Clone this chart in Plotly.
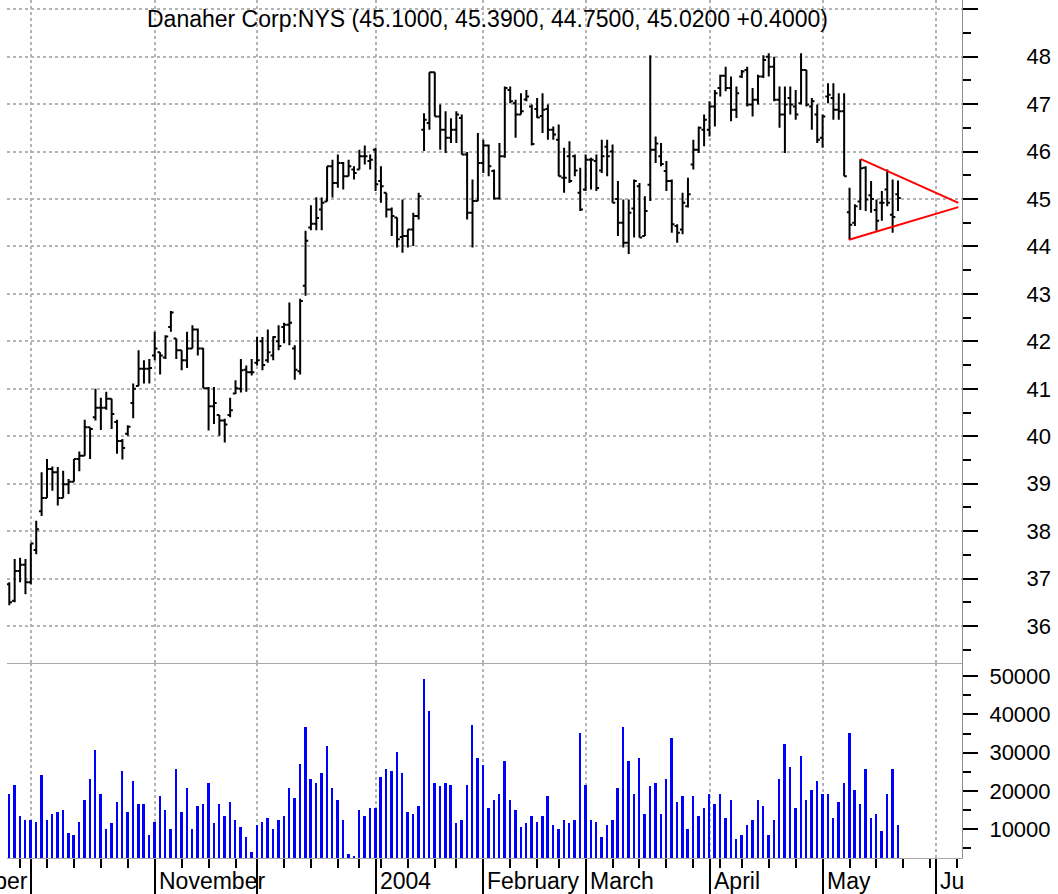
import pandas as pd
import plotly.graph_objects as go

# ---------------- data ----------------
TICKER = "Danaher Corp:NYS"
FIRST_DAY = "2003-09-25"
LAST_DAY = "2004-05-21"
HOLIDAYS = ["2003-11-27", "2003-12-25", "2004-01-01", "2004-01-19", "2004-02-16", "2004-04-09"]
FUTURE_END = "2004-06-11"

opens = [36.88, 36.53, 37.16, 37.29, 36.92, 37.60, 38.42, 38.70, 39.31, 39.24,
         38.70, 38.99, 39.04, 39.52, 39.59, 40.19, 40.40, 40.60, 40.60, 40.79,
         40.30, 39.90, 40.05, 40.70, 41.06, 41.42, 41.42, 41.70, 41.77, 41.66,
         42.30, 42.06, 41.81, 41.60, 41.85, 42.25, 41.85, 41.01, 40.63, 40.45,
         40.33, 40.45, 40.90, 41.00, 41.40, 41.35, 41.55, 42.00, 41.60, 41.70,
         42.00, 42.30, 42.35, 41.85, 41.37, 43.17, 44.40, 44.48, 44.78, 44.95,
         45.69, 45.34, 45.76, 45.48, 45.62, 45.62, 45.90, 45.80, 46.04, 45.38,
         45.13, 44.78, 44.61, 44.20, 44.22, 44.36, 44.64, 46.46, 46.60, 47.67,
         46.74, 46.46, 46.29, 46.46, 46.71, 45.94, 44.71, 44.96, 45.76, 46.13,
         45.59, 45.01, 45.90, 47.30, 47.02, 46.78, 47.10, 46.95, 46.90, 46.75,
         46.90, 46.46, 46.25, 45.45, 45.90, 45.90, 45.13, 45.20, 45.83, 45.80,
         45.60, 46.10, 46.00, 45.00, 44.50, 44.08, 44.80, 45.27, 44.22, 45.30,
         46.04, 45.90, 45.59, 45.38, 44.43, 44.36, 44.85, 45.73, 46.04, 46.46,
         46.46, 46.95, 47.34, 47.60, 47.34, 46.88, 47.58, 47.72, 46.99, 47.09,
         47.58, 48.00, 47.79, 47.09, 46.78, 47.13, 46.95, 47.02, 47.72, 46.95,
         46.78, 46.29, 47.16, 47.13, 46.88, 46.85, 44.72, 44.50, 44.95, 45.66,
         45.08, 44.77, 44.92, 45.20, 44.67, 45.10]
highs = [36.92, 37.41, 37.44, 37.41, 37.74, 38.22, 39.24, 39.52, 39.36, 39.35,
         39.27, 39.10, 39.52, 39.68, 40.35, 40.19, 41.00, 40.81, 40.94, 40.79,
         40.35, 39.94, 40.23, 41.11, 41.81, 41.60, 41.63, 42.20, 41.77, 42.13,
         42.64, 42.06, 41.81, 42.20, 42.34, 42.27, 41.86, 41.04, 41.04, 40.45,
         40.37, 40.81, 41.18, 41.63, 41.49, 41.63, 42.09, 42.09, 42.25, 42.11,
         42.34, 42.39, 42.82, 41.92, 42.90, 44.33, 44.87, 45.04, 45.03, 45.69,
         45.83, 45.94, 45.78, 45.83, 45.69, 46.04, 46.13, 45.94, 46.08, 45.69,
         45.13, 44.82, 44.61, 44.99, 44.36, 44.71, 45.13, 46.81, 47.67, 47.67,
         46.99, 46.85, 46.70, 46.85, 46.78, 45.99, 45.41, 46.39, 46.25, 46.15,
         45.62, 46.18, 47.37, 47.37, 47.09, 47.23, 47.30, 46.99, 47.13, 47.23,
         46.99, 46.53, 46.57, 46.08, 46.22, 45.94, 45.66, 45.94, 45.87, 45.94,
         46.25, 46.25, 46.15, 45.38, 44.99, 44.99, 45.41, 45.34, 45.06, 48.03,
         46.32, 46.18, 45.80, 45.41, 44.47, 45.13, 45.45, 46.25, 46.53, 46.78,
         47.06, 47.30, 47.62, 47.79, 47.58, 47.37, 47.72, 47.79, 47.34, 47.62,
         48.03, 48.07, 48.00, 47.37, 47.37, 47.37, 47.30, 48.07, 47.72, 47.13,
         46.99, 46.78, 47.44, 47.44, 47.23, 47.23, 45.24, 44.89, 45.84, 45.69,
         45.38, 44.99, 45.17, 45.62, 45.41, 45.39]
lows = [36.44, 36.50, 36.92, 36.67, 36.88, 37.51, 38.32, 38.70, 38.85, 38.54,
        38.70, 38.78, 39.04, 39.26, 39.59, 39.52, 40.33, 40.13, 40.56, 40.15,
        39.63, 39.51, 40.01, 40.38, 41.06, 41.11, 41.11, 41.60, 41.30, 41.63,
        42.20, 41.63, 41.39, 41.44, 41.85, 41.70, 41.01, 40.12, 40.26, 40.01,
        39.87, 40.40, 40.89, 40.92, 40.94, 41.28, 41.49, 41.39, 41.55, 41.60,
        41.81, 41.96, 41.92, 41.19, 41.30, 42.96, 44.34, 44.34, 44.34, 44.95,
        45.03, 45.24, 45.20, 45.48, 45.41, 45.62, 45.73, 45.62, 45.17, 44.92,
        44.61, 44.22, 43.98, 43.87, 43.98, 44.01, 44.57, 46.01, 46.46, 46.74,
        46.04, 45.97, 46.18, 46.18, 45.94, 44.57, 43.98, 44.96, 45.55, 45.48,
        44.99, 44.99, 45.87, 47.02, 46.29, 46.78, 47.06, 46.13, 46.71, 46.39,
        46.25, 46.25, 45.48, 45.13, 45.34, 45.48, 44.75, 45.17, 45.20, 45.17,
        45.55, 45.48, 44.92, 44.22, 43.98, 43.84, 44.19, 44.19, 44.22, 44.96,
        45.76, 45.69, 45.17, 44.29, 44.08, 44.26, 44.82, 45.62, 45.97, 46.11,
        46.32, 46.53, 47.16, 47.27, 46.64, 46.71, 47.55, 46.95, 46.74, 46.99,
        47.55, 47.58, 47.06, 46.50, 45.97, 46.78, 46.67, 46.99, 46.95, 46.46,
        46.18, 46.08, 47.02, 46.67, 46.67, 45.48, 44.14, 44.43, 44.77, 44.75,
        44.71, 44.33, 44.54, 44.85, 44.29, 44.75]
closes = [36.50, 37.16, 37.29, 36.92, 37.74, 38.04, 38.70, 39.31, 39.24, 38.70,
          38.99, 39.04, 39.52, 39.59, 40.19, 40.15, 40.60, 40.60, 40.79, 40.47,
          39.90, 39.75, 40.20, 41.00, 41.42, 41.42, 41.44, 41.85, 41.70, 42.10,
          42.61, 41.81, 41.60, 41.85, 42.25, 41.85, 41.01, 40.63, 40.70, 40.33,
          40.25, 40.55, 41.01, 41.39, 41.35, 41.35, 41.60, 41.50, 41.77, 42.09,
          41.90, 42.35, 42.39, 41.40, 42.85, 44.12, 44.48, 44.60, 44.92, 45.69,
          45.34, 45.76, 45.48, 45.69, 45.55, 45.90, 45.90, 45.83, 45.31, 45.27,
          44.78, 44.64, 44.15, 44.22, 44.36, 44.64, 45.06, 46.67, 47.67, 46.74,
          46.46, 46.29, 46.46, 46.78, 45.94, 44.71, 44.96, 45.76, 46.13, 45.69,
          45.01, 45.90, 47.34, 47.06, 46.78, 46.85, 47.16, 46.16, 46.72, 46.88,
          46.46, 46.36, 45.48, 45.45, 45.38, 45.60, 44.78, 45.83, 45.83, 45.23,
          45.90, 45.90, 44.92, 44.50, 44.08, 44.71, 45.38, 44.19, 44.75, 46.04,
          46.17, 45.74, 45.38, 44.47, 44.29, 44.92, 45.10, 46.04, 46.50, 46.67,
          46.95, 47.23, 47.60, 47.34, 46.88, 47.23, 47.69, 46.99, 47.09, 47.58,
          47.93, 47.79, 47.09, 46.78, 46.99, 46.99, 46.78, 47.72, 46.99, 47.06,
          46.25, 46.74, 47.20, 46.88, 46.85, 45.48, 44.46, 44.85, 45.65, 44.99,
          45.00, 44.54, 44.92, 44.92, 44.62, 45.02]
volumes = [19100, 21600, 13500, 12400, 12400, 11900, 24200, 12400, 14000, 14500,
           15000, 9000, 8400, 11900, 17500, 23100, 30700, 19100, 9900, 11500,
           17000, 25100, 14400, 22600, 16400, 16400, 8400, 11900, 18600, 15000,
           9900, 25700, 14400, 20600, 9900, 16000, 16400, 22100, 11500, 16400,
           13500, 17000, 12400, 10400, 7900, 3900, 11000, 11900, 13000, 9900,
           12400, 13500, 20600, 18100, 27100, 36600, 23100, 22100, 24600, 31700,
           20600, 17500, 12400, 3400, 3000, 15000, 13500, 15500, 15500, 23700,
           25700, 25100, 30200, 24600, 14400, 14000, 16000, 49100, 40700, 22100,
           21100, 22100, 21600, 11500, 12400, 21600, 37100, 28600, 26600, 15500,
           17500, 19100, 27700, 17500, 15000, 10400, 11500, 13500, 11900, 13500,
           18600, 11000, 9900, 12400, 11500, 12400, 35100, 21600, 12400, 11900,
           7900, 11000, 12400, 20600, 36600, 27700, 19100, 28600, 14000, 21100,
           22100, 14000, 23100, 33700, 17000, 18600, 9900, 18600, 13500, 15500,
           19100, 16400, 19100, 13000, 17500, 7500, 8400, 11000, 12400, 17500,
           16000, 8400, 12400, 23100, 32200, 26100, 15500, 29100, 17500, 20100,
           22600, 19100, 19100, 13000, 17000, 22100, 35100, 20100, 16400, 25700,
           13000, 14000, 9500, 19100, 25700, 11000]

# symmetric-triangle trendlines (bar index, price)
tri_upper_x = [158.1, 176.2]
tri_upper_y = [45.84, 44.92]
tri_lower_x = [155.9, 176.2]
tri_lower_y = [44.14, 44.83]

month_label_text = {(2003, 11): "November", (2004, 1): "2004", (2004, 2): "February",
                    (2004, 3): "March", (2004, 4): "April", (2004, 5): "May", (2004, 6): "Ju"}
left_clipped_label = "September"

price_ticks = list(range(36, 50))
price_minor = [v + 0.5 for v in range(35, 49)]
vol_ticks = [10000, 20000, 30000, 40000, 50000]
vol_minor = [5000, 15000, 25000, 35000, 45000]

# ---------------- calendar slots ----------------
trade_days = list(pd.bdate_range(FIRST_DAY, LAST_DAY, freq="C", holidays=HOLIDAYS))
future_days = list(pd.bdate_range(pd.Timestamp(LAST_DAY) + pd.Timedelta(days=1), FUTURE_END))
all_days = trade_days + future_days
n = len(opens)
xs = list(range(n))

month_idx = [i for i in range(1, len(all_days)) if all_days[i].month != all_days[i - 1].month]
week_idx = [i for i in range(1, len(all_days))
            if all_days[i].isocalendar()[1] != all_days[i - 1].isocalendar()[1] and i not in month_idx]

FONT = "Liberation Sans, Arial, sans-serif"
GRID = "#b4b4b4"
AXIS = "#8c8c8c"

fig = go.Figure()
fig.add_trace(go.Ohlc(x=xs, open=opens, high=highs, low=lows, close=closes,
                      xaxis="x", yaxis="y", tickwidth=0.5,
                      increasing=dict(line=dict(color="black", width=2)),
                      decreasing=dict(line=dict(color="black", width=2)),
                      showlegend=False, hoverinfo="skip"))
fig.add_trace(go.Scatter(x=tri_upper_x, y=tri_upper_y, mode="lines", xaxis="x", yaxis="y",
                         line=dict(color="#ff0000", width=2), showlegend=False, hoverinfo="skip"))
fig.add_trace(go.Scatter(x=tri_lower_x, y=tri_lower_y, mode="lines", xaxis="x", yaxis="y",
                         line=dict(color="#ff0000", width=2), showlegend=False, hoverinfo="skip"))
fig.add_trace(go.Bar(x=xs, y=volumes, xaxis="x2", yaxis="y2", width=0.36,
                     marker=dict(color="#0000ff", line=dict(width=0)),
                     showlegend=False, hoverinfo="skip"))

W, H = 1058, 894
ML, MR, MT, MB = 7, 96, 0, 36
plot_h = H - MT - MB
split = (858 - 663.3) / plot_h
x_range = [-0.427, 176.88]

fig.update_layout(
    width=W, height=H, margin=dict(l=ML, r=MR, t=MT, b=MB),
    paper_bgcolor="white", plot_bgcolor="white",
    font=dict(family=FONT, size=22, color="black"),
    bargap=0,
    xaxis=dict(domain=[0, 1], anchor="y", range=x_range, rangeslider=dict(visible=False),
               tickmode="array", tickvals=month_idx, showticklabels=False, ticks="",
               showgrid=True, gridcolor=GRID, griddash="dot", gridwidth=1.5,
               showline=True, linecolor="#a8a8a8", linewidth=1, zeroline=False),
    xaxis2=dict(domain=[0, 1], anchor="y2", range=x_range, matches="x",
                tickmode="array", tickvals=month_idx, ticktext=[""] * len(month_idx),
                ticks="outside", ticklen=36, tickwidth=2, tickcolor="black",
                minor=dict(tickmode="array", tickvals=week_idx, ticks="outside", ticklen=9,
                           tickwidth=2, tickcolor="black", showgrid=False),
                showgrid=True, gridcolor=GRID, griddash="dot", gridwidth=1.5,
                showline=True, linecolor="#a8a8a8", linewidth=1, zeroline=False),
    yaxis=dict(domain=[split, 1], anchor="x", side="right", range=[35.214, 49.195],
               tickmode="array", tickvals=price_ticks,
               ticktext=[str(v) if v < 49 else "" for v in price_ticks],
               ticks="outside", ticklen=15, tickwidth=2, tickcolor="black",
               ticklabelstandoff=44,
               minor=dict(tickmode="array", tickvals=price_minor, ticks="outside", ticklen=8,
                          tickwidth=2, tickcolor="black", showgrid=False),
               showgrid=True, gridcolor=GRID, griddash="dot", gridwidth=1.5,
               showline=True, linecolor=AXIS, linewidth=1, zeroline=False,
               tickfont=dict(size=22)),
    yaxis2=dict(domain=[0, split], anchor="x2", side="right", range=[2500, 53350],
                tickmode="array", tickvals=vol_ticks, ticktext=[str(v) for v in vol_ticks],
                ticks="outside", ticklen=15, tickwidth=2, tickcolor="black",
                ticklabelstandoff=7,
                minor=dict(tickmode="array", tickvals=vol_minor, ticks="outside", ticklen=8,
                           tickwidth=2, tickcolor="black", showgrid=False),
                showgrid=False, showline=True, linecolor=AXIS, linewidth=1, zeroline=False,
                tickfont=dict(size=22)),
)

# title built from the last bar
o, h, l, c = opens[-1], highs[-1], lows[-1], closes[-1]
chg = c - closes[-2]
title = f"{TICKER} ({o:.4f}, {h:.4f}, {l:.4f}, {c:.4f} {chg:+.4f})"
fig.add_annotation(text=title, xref="paper", yref="paper", x=0.503, y=1, yanchor="top",
                   xanchor="center", yshift=-4, showarrow=False,
                   font=dict(family=FONT, size=23, color="black"))

# month labels
label_y = -0.027
for i in month_idx:
    d = all_days[i]
    txt = month_label_text.get((d.year, d.month))
    if txt:
        fig.add_annotation(text=txt, xref="x2", yref="paper", x=i, y=label_y,
                           xanchor="left", yanchor="middle", xshift=2, showarrow=False,
                           font=dict(family=FONT, size=23, color="black"))
fig.add_annotation(text=left_clipped_label, xref="x2", yref="paper", x=month_idx[0], y=label_y,
                   xanchor="right", yanchor="middle", xshift=-1, showarrow=False,
                   font=dict(family=FONT, size=23, color="black"))

fig.write_html("out.html")
